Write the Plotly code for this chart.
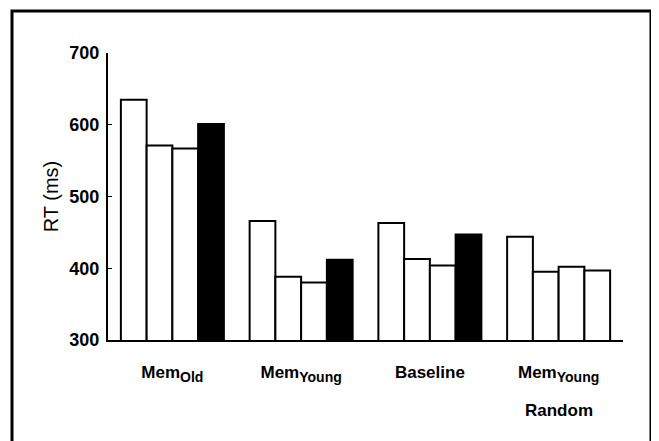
import plotly.graph_objects as go

categories = ["Mem<sub>Old</sub>", "Mem<sub>Young</sub>", "Baseline", "Mem<sub>Young</sub>"]
series1 = [635, 466, 463, 444]
series2 = [571, 388, 413, 395]
series3 = [567, 380, 404, 402]
series4 = [601, 412, 447, 397]
series4_colors = ["black", "black", "black", "white"]
y_ticks = [300, 400, 500, 600, 700]
second_line_label = "Random"

fig = go.Figure()
x_idx = list(range(len(categories)))
for vals, colors in [(series1, ["white"] * 4), (series2, ["white"] * 4),
                     (series3, ["white"] * 4), (series4, series4_colors)]:
    fig.add_trace(go.Bar(
        x=x_idx, y=vals,
        marker=dict(color=colors, line=dict(color="black", width=2)),
        showlegend=False,
    ))

font_family = "Liberation Sans, Arial, sans-serif"


def fmt(c):
    c = c.replace("<sub>", "<sub><span style='font-size:14px'>").replace("</sub>", "</span></sub>")
    return "<b>" + c + "</b>"


# page body has an 8px offset; plot area target: x 108..623, y 53..340 on screen
L, T = 100, 45
W, H = 515, 287

fig.update_layout(
    width=659, height=441,
    margin=dict(l=L, r=659 - L - W, t=T, b=441 - T - H),
    barmode="group", bargap=0.2, bargroupgap=0,
    plot_bgcolor="white", paper_bgcolor="white",
    font=dict(family=font_family, color="black"),
    xaxis=dict(
        tickmode="array", tickvals=x_idx,
        ticktext=[fmt(c) for c in categories],
        range=[-0.5, 3.5], showline=True, linecolor="black", linewidth=2,
        ticks="", showgrid=False, zeroline=False,
        tickfont=dict(size=17, family=font_family, color="black"),
        ticklabelstandoff=16,
    ),
    yaxis=dict(
        range=[300, 700], tickvals=y_ticks,
        ticktext=["<b>%d</b>" % v for v in y_ticks],
        showline=True, linecolor="black", linewidth=2,
        ticks="inside", ticklen=4, tickwidth=1, tickcolor="black",
        showgrid=False, zeroline=False,
        tickfont=dict(size=18, family=font_family, color="black"),
        ticklabelstandoff=3,
        title=dict(text="RT (ms)", font=dict(size=20, family=font_family, color="black"), standoff=5),
    ),
    shapes=[dict(
        type="rect", xref="paper", yref="paper",
        x0=(12 - 108) / W, x1=(651 - 108) / W,
        y0=(340 - 470) / H, y1=(340 - 11) / H,
        line=dict(color="black", width=3), fillcolor="rgba(0,0,0,0)", layer="below",
    )],
    annotations=[dict(
        x=3, y=(340 - 410) / H, xref="x", yref="paper",
        text="<b>" + second_line_label + "</b>", showarrow=False,
        font=dict(size=17, family=font_family, color="black"),
        xanchor="center", yanchor="middle",
    )],
)

fig.write_html("out.html")
